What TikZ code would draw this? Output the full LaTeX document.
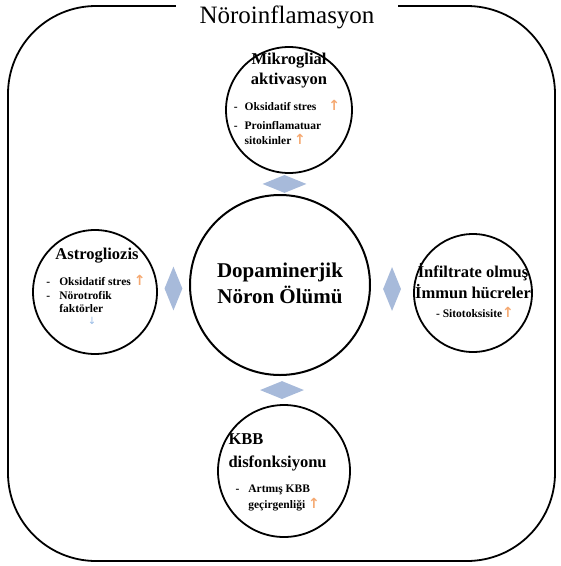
\documentclass[tikz,border=0pt]{standalone}
\usepackage{fontspec}
\setmainfont{Liberation Serif}
\newfontfamily\arrowfont{DejaVu Sans}
\usepackage{tikz}
\usetikzlibrary{shapes.geometric,positioning,calc}

\definecolor{diablue}{RGB}{167,186,218}
\definecolor{uporange}{RGB}{245,168,112}
\definecolor{downblue}{RGB}{150,185,228}
\newcommand{\uparr}{{\arrowfont\fontsize{14}{14}\selectfont\color{uporange}↑}}

\begin{document}
\begin{tikzpicture}[x=1pt, y=-1pt,
    cell/.style={circle, draw, line width=1.8pt, inner sep=0pt},
    dia/.style={diamond, fill=diablue, inner sep=0pt},
    head/.style={font=\fontsize{16.5}{20}\selectfont\bfseries, align=center},
    item/.style={font=\fontsize{11.5}{15}\selectfont\bfseries, align=left}]
    \useasboundingbox (0,0) rectangle (561,566);

    % outer frame with title
    \draw[line width=1.8pt, rounded corners=88pt] (8,6) rectangle (555,561);
    \node[fill=white, font=\fontsize{25}{28}\selectfont, inner xsep=24pt] (title) at (287,17) {Nöroinflamasyon};

    % circles
    \node[cell, minimum size=126] (mikro) at (289,110) {};
    \node[cell, minimum size=180, line width=2pt] (olum) at (280,285) {};
    \node[cell, minimum size=124] (astro) at (95,292) {};
    \node[cell, minimum size=118] (infil) at (473,293) {};
    \node[cell, minimum size=132] (kbb) at (284,471) {};

    % diamonds between the circles
    \foreach \a/\b/\n in {mikro/olum/top, olum/kbb/bot}
        \node[dia, minimum width=44, minimum height=18] (dia\n) at ($(\a.south)!.5!(\b.north)$) {};
    \foreach \a/\b/\n in {astro/olum/left, olum/infil/right}
        \node[dia, minimum width=18, minimum height=44] (dia\n) at ($(\a.east)!.5!(\b.west)$) {};

    % centre
    \node[font=\fontsize{21}{26}\selectfont\bfseries, align=center] (olumtext) at (280,283) {Dopaminerjik\\Nöron Ölümü};

    % Mikroglial aktivasyon
    \node[head] (mikrohead) at (289,71) {Mikroglial\\aktivasyon};
    \node[item] (mikrolist) at (287,124) {\begin{tabular}{@{}l@{\hspace{7pt}}l@{}}
        - & Oksidatif stres\hspace{12pt}\uparr\\[4pt]
        - & Proinflamatuar\\[0pt]
          & sitokinler \uparr
    \end{tabular}};

    % Astrogliozis
    \node[head] (astrohead) at (97,256) {Astrogliozis};
    \node[item] (astrolist) at (96,296) {\begin{tabular}{@{}l@{\hspace{9pt}}l@{}}
        - & Oksidatif stres \uparr\\[-1pt]
        - & Nörotrofik\\[-2pt]
          & faktörler
    \end{tabular}};
    \node[text=downblue, font=\arrowfont\fontsize{10}{10}\selectfont, inner sep=1pt] (astrodown) at (92,321) {↓};

    % Infiltrate olmus Immun hucreler
    \node[head, font=\fontsize{16.5}{21}\selectfont\bfseries] (infilhead) at (473,281) {İnfiltrate olmuş\\İmmun hücreler};
    \node[item] (infillist) at (475,312) {- Sitotoksisite\uparr};

    % KBB disfonksiyonu
    \node[head, align=left, anchor=west, font=\fontsize{16.5}{23}\selectfont\bfseries] (kbbhead) at (225,452) {KBB\\disfonksiyonu};
    \node[item, anchor=west] (kbblist) at (232,497) {\begin{tabular}{@{}l@{\hspace{9pt}}l@{}}
        - & Artmış KBB\\[1pt]
          & geçirgenliği \uparr
    \end{tabular}};
\end{tikzpicture}
\end{document}
